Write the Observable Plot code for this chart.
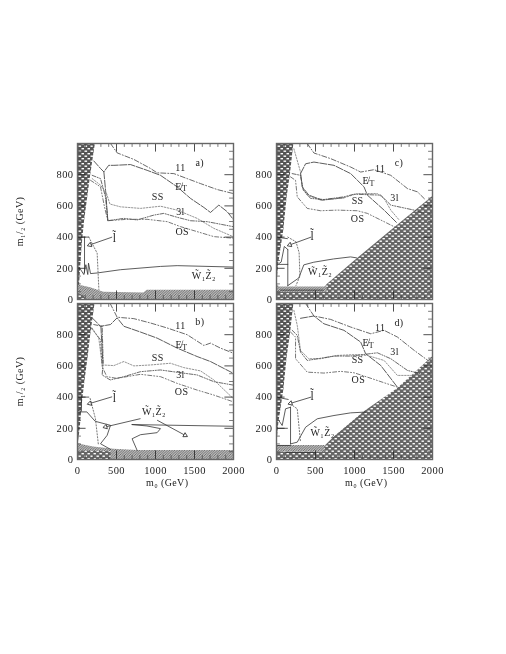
<!DOCTYPE html>
<html><head><meta charset="utf-8">
<script src="https://cdn.jsdelivr.net/npm/d3@7"></script>
<script src="https://cdn.jsdelivr.net/npm/@observablehq/plot@0.6"></script>
<style>html,body{margin:0;padding:0;background:#fff}svg{display:block;filter:blur(.35px)}svg text{letter-spacing:.4px}</style>
</head><body><div id="c"></div>
<script>
// curves, [m0, m1/2]
const a11=[[423,1000],[508,940],[722,898],[936,840],[1021,812],[1235,807],[1406,775],[1577,743],[1790,705],[1990,680]];
const aEt=[[209,888],[295,840],[338,818],[400,860],[466,860],[679,865],[893,828],[1064,796],[1278,722],[1449,648],[1620,590],[1705,558],[1812,605],[1919,563],[1996,514]];
const aEt2=[[338,818],[360,700],[389,505]];
const aSS=[[188,775],[295,733],[372,680],[415,612],[551,594],[808,584],[1064,598],[1278,573],[1534,520],[1748,456],[1996,403]];
const a3l=[[188,796],[295,775],[359,658],[389,505],[594,520],[765,510],[979,541],[1107,552],[1278,527],[1449,505],[1662,499],[1996,467]];
const aOS=[[167,764],[295,722],[346,594],[389,505],[637,514],[893,514],[1150,499],[1321,467],[1534,435],[1748,403],[1996,393]];
const aW=[[0,165],[30,200],[81,160],[107,223],[132,160],[141,233],[167,166],[252,170],[551,191],[1064,212],[1278,217],[1996,208]];
const aV=[[90,400],[90,170]];
const aH=[[0,400],[145,400]];
const aDot=[[145,400],[252,297],[274,64]];

const b11=[[419,1000],[508,912],[722,903],[936,875],[1150,843],[1406,800],[1620,731],[1705,746],[1833,714],[1996,682]];
const bEt=[[188,908],[295,854],[423,865],[508,908],[594,854],[808,817],[1021,778],[1278,714],[1534,660],[1705,628],[1996,553]];
const bEt2=[[300,854],[325,620]];
const bSS=[[188,843],[273,778],[316,606],[466,602],[594,628],[722,600],[936,606],[1192,617],[1363,589],[1577,568],[1748,510],[1996,391]];
const b3l=[[209,865],[316,854],[329,628],[316,542],[419,510],[594,531],[808,563],[1064,574],[1278,559],[1534,542],[1748,499],[1996,477]];
const bOS=[[162,850],[295,768],[316,596],[376,531],[504,520],[808,546],[1064,531],[1278,488],[1534,445],[1748,413],[1996,370]];
const bW=[[0,316],[50,305],[120,305],[226,245],[423,219],[380,155],[295,101],[423,65]];
const bW2=[[700,224],[1996,213]];
const bW3=[[700,224],[890,215],[1064,198],[1021,172],[808,159],[700,133],[765,58]];
const bV=[[50,400],[50,310]];
const bH=[[0,400],[145,400]];
const bDot=[[162,391],[230,262],[269,90]];

const c11=[[394,1000],[480,939],[694,903],[951,849],[1079,817],[1250,832],[1465,796],[1679,711],[1807,690],[1914,637]];
const cEt=[[308,807],[373,870],[480,881],[737,860],[951,807],[1122,722],[1165,669],[1379,573],[1550,488]];
const cEt2=[[308,807],[330,722],[415,669],[587,637],[865,652]];
const cSS=[[223,966],[308,817],[330,722],[394,669],[565,637],[865,652],[1036,679],[1293,679],[1379,648],[1465,573],[1572,510]];
const c3l=[[201,807],[308,796],[343,701],[437,648],[608,641],[865,658],[994,675],[1336,669],[1465,605],[1764,573],[1893,552]];
const cOS=[[180,786],[244,764],[266,658],[394,584],[565,569],[779,573],[1036,569],[1165,552],[1379,499],[1550,456]];
const cW=[[145,89],[286,138],[350,222],[478,239],[731,260],[949,273],[1026,267]];
const cV=[[145,89],[145,320]];
const cS=[[30,230],[60,240],[100,340],[145,320]];
const cH=[[0,225],[145,225]];
const cH2=[[0,400],[140,390]];
const cDot=[[145,400],[250,370],[290,300],[300,150],[250,90]];
const cL=[[50,60],[600,60]];

const d11=[[373,1000],[480,920],[694,898],[951,849],[1208,806],[1379,828],[1550,785],[1764,700],[1957,629]];
const dEt=[[308,905],[480,920],[608,870],[865,828],[1079,753],[1143,678],[1336,603],[1550,464]];
const dSS=[[223,956],[266,860],[308,699],[415,646],[565,646],[779,667],[994,672],[1165,667],[1379,635],[1550,539],[1722,539]];
const d3l=[[201,828],[266,796],[308,689],[394,635],[737,663],[951,663],[1293,684],[1465,646],[1679,571],[1850,550]];
const dOS=[[180,817],[244,785],[244,646],[394,560],[608,554],[822,565],[994,556],[1165,528],[1379,492],[1550,464]];
const dW=[[180,100],[266,111],[373,207],[523,261],[737,282],[951,299],[1143,304]];
const dV=[[180,100],[180,335]];
const dS=[[30,250],[73,218],[116,325],[180,335]];
const dH=[[0,200],[140,200]];
const dH2=[[0,90],[180,90]];
const dH3=[[0,400],[150,385]];
const dDot=[[180,355],[266,325],[308,110]];
const dL=[[120,45],[500,45]];

// shaded regions
const aLeft=[[230,1000],[170,800],[130,650],[90,500],[60,350],[40,200],[15,0]];
const bLeft=[[225,1000],[170,800],[135,650],[95,500],[60,350],[35,200],[10,100]];
const cLeft=[[223,1000],[180,807],[137,658],[94,446],[30,234],[0,64]];
const dLeft=[[223,1000],[180,807],[137,658],[94,446],[30,234],[0,64]];
const cTri=[[550,0],[587,60],[651,96],[994,244],[1507,456],[2000,658]];
const dTri=[[520,0],[587,68],[737,143],[1122,304],[1550,453],[2000,657]];
const aHatch=[[0,95,0],[167,75,0],[338,47,0],[850,42,0],[893,60,0],[2000,60,0]];
const bHatch=[[0,101,0],[205,80,0],[466,65,0],[765,58,0],[2000,58,0]];
const cHatch=[[0,100,45],[40,80,45],[650,80,45]];
const dHatch=[[0,90,47],[620,90,47]];
const aBrick=[[0,40,0],[100,20,0]];
const bBrick=[[0,55,0],[430,50,0]];
const cBrick=[[0,45,0],[600,45,0]];
const dBrick=[[0,47,0],[600,47,0]];

// ticks
const xMajor=[0,500,1000,1500,2000];
const xMinor=[100,200,300,400,600,700,800,900,1100,1200,1300,1400,1600,1700,1800,1900];
const yMajor=[0,200,400,600,800,1000];
const yMinor=[50,100,150,250,300,350,450,500,550,650,700,750,850,900,950];
const yLabels=[0,200,400,600,800];

const cell={a:["L","T"],b:["L","B"],c:["R","T"],d:["R","B"]};
const lineSets=[
 ["a","11",a11],["a","Et",aEt],["a","Et",aEt2],["a","SS",aSS],["a","3l",a3l],["a","OS",aOS],["a","W",aW],["a","W",aV],["a","W",aH],["a","dot",aDot],
 ["b","11",b11],["b","Et",bEt],["b","Et",bEt2],["b","SS",bSS],["b","3l",b3l],["b","OS",bOS],["b","W",bW],["b","W",bW2],["b","W",bW3],["b","W",bV],["b","W",bH],["b","dot",bDot],
 ["c","11",c11],["c","Et",cEt],["c","Et",cEt2],["c","SS",cSS],["c","3l",c3l],["c","OS",cOS],["c","W",cW],["c","W",cV],["c","W",cS],["c","W",cH],["c","W",cH2],["c","W",cL],["c","dot",cDot],
 ["d","11",d11],["d","Et",dEt],["d","SS",dSS],["d","3l",d3l],["d","OS",dOS],["d","W",dW],["d","W",dV],["d","W",dS],["d","W",dH],["d","W",dH2],["d","W",dH3],["d","W",dL],["d","dot",dDot]
];
const rows=lineSets.flatMap(([p,k,pts],i)=>pts.map(([x,y])=>({fx:cell[p][0],fy:cell[p][1],k,id:i,x,y})));
const kind=k=>rows.filter(r=>r.k===k);
const styleOf={
 "11":{stroke:"#444",strokeWidth:.8,strokeDasharray:"5 2 1 2"},
 "Et":{stroke:"#333",strokeWidth:.8,strokeDasharray:"7 1.5"},
 "SS":{stroke:"#888",strokeWidth:.9,strokeDasharray:"1.5 1.5"},
 "3l":{stroke:"#444",strokeWidth:.8,strokeDasharray:"4 1.5 1 1.5 1 1.5"},
 "OS":{stroke:"#555",strokeWidth:.8,strokeDasharray:"4 2 1 2 1 2"},
 "W":{stroke:"#333",strokeWidth:.8},
 "dot":{stroke:"#666",strokeWidth:.9,strokeDasharray:"1.2 1.8"}
};
const left=[["a",aLeft],["b",bLeft],["c",cLeft],["d",dLeft]].flatMap(([p,pts])=>pts.map(([x,y])=>({fx:cell[p][0],fy:cell[p][1],p,x,y})));
const tri=[["c",cTri],["d",dTri]].flatMap(([p,pts])=>pts.map(([x,y])=>({fx:cell[p][0],fy:cell[p][1],p,x,y})));
const band=sets=>sets.flatMap(([p,pts])=>pts.map(([x,y2,y1])=>({fx:cell[p][0],fy:cell[p][1],p,x,y1,y2})));
const hatch=band([["a",aHatch],["b",bHatch],["c",cHatch],["d",dHatch]]);
const brick=band([["a",aBrick],["b",bBrick],["c",cBrick],["d",dBrick]]);

// arrows: from label to head
const arrowSets=[["a",444,400,158,350],["b",444,402,158,359],["b",808,262,359,209],["b",1021,252,1380,155],["c",444,400,170,350],["d",444,400,180,360]];
const arrows=arrowSets.map(([p,x1,y1,x2,y2])=>({fx:cell[p][0],fy:cell[p][1],x1,y1,x2,y2,
  rotate:Math.atan2((x2-x1)*0.078,(y2-y1)*0.157)*180/Math.PI}));

// text
const labelSets=[
 ["a","11",1320,843],["a","E̸",1296,722],["a","T",1372,712],["a","SS",1030,658],["a","3l",1320,563],["a","OS",1342,435],["a","a)",1568,877],["a","l̃",474,393],["a","W̃₁Z̃₂",1620,150],
 ["b","11",1320,855],["b","E̸",1299,735],["b","T",1376,720],["b","SS",1030,655],["b","3l",1320,540],["b","OS",1335,435],["b","b)",1568,880],["b","l̃",474,395],["b","W̃₁Z̃₂",980,305],
 ["c","11",1330,840],["c","E̸",1143,758],["c","T",1225,745],["c","SS",1040,630],["c","3l",1515,650],["c","OS",1040,520],["c","c)",1570,875],["c","l̃",460,405],["c","W̃₁Z̃₂",560,175],
 ["d","11",1330,845],["d","E̸",1143,746],["d","T",1216,733],["d","SS",1040,640],["d","3l",1515,690],["d","OS",1050,510],["d","d)",1570,875],["d","l̃",460,405],["d","W̃₁Z̃₂",590,170]
];
const labels=labelSets.map(([p,t,x,y])=>({fx:cell[p][0],fy:cell[p][1],t,x,y}));
const yTitles=[["a","m₁/₂ (GeV)",-745,500],["b","m₁/₂ (GeV)",-745,500]].map(([p,t,x,y])=>({fx:cell[p][0],fy:cell[p][1],t,x,y}));
const xTitles=[["b","m₀ (GeV)",1150,-150],["d","m₀ (GeV)",1150,-150]].map(([p,t,x,y])=>({fx:cell[p][0],fy:cell[p][1],t,x,y}));

const serif="'Liberation Serif',serif";
const chart=Plot.plot({
  width:506,height:654,
  marginLeft:77,marginRight:74,marginTop:143,marginBottom:195,
  style:{background:"#fff",fontFamily:serif,color:"#222",overflow:"visible"},
  x:{domain:[0,2000],axis:null},
  y:{domain:[0,1000],axis:null},
  fx:{domain:["L","R"],axis:null,paddingInner:43/199,paddingOuter:0,round:false,label:null},
  fy:{domain:["T","B"],axis:null,paddingInner:4/160,paddingOuter:0,round:false,label:null},
  marks:[
    Plot.areaX(left,{y:"y",x1:0,x2:"x",z:"p",fx:"fx",fy:"fy",fill:"url(#brickL)"}),
    Plot.areaY(tri,{x:"x",y1:0,y2:"y",z:"p",fx:"fx",fy:"fy",fill:"url(#brickT)"}),
    Plot.areaY(hatch,{x:"x",y1:"y1",y2:"y2",z:"p",fx:"fx",fy:"fy",fill:"url(#hatch)"}),
    Plot.areaY(brick,{x:"x",y1:"y1",y2:"y2",z:"p",fx:"fx",fy:"fy",fill:"url(#brickT)"}),
    ...Object.entries(styleOf).map(([k,s])=>Plot.line(kind(k),{x:"x",y:"y",z:"id",fx:"fx",fy:"fy",...s})),
    Plot.link(arrows,{x1:"x1",y1:"y1",x2:"x2",y2:"y2",fx:"fx",fy:"fy",stroke:"#333",strokeWidth:.8}),
    Plot.dot(arrows,{x:"x2",y:"y2",fx:"fx",fy:"fy",symbol:"triangle",rotate:"rotate",r:1.7,stroke:"#333",strokeWidth:.8,fill:"#fff"}),
    Plot.ruleX(xMajor,{y1:0,y2:55,stroke:"#222",strokeWidth:.8}),
    Plot.ruleX(xMajor,{y1:945,y2:1000,stroke:"#222",strokeWidth:.8}),
    Plot.ruleX(xMinor,{y1:0,y2:25,stroke:"#444",strokeWidth:.7}),
    Plot.ruleX(xMinor,{y1:975,y2:1000,stroke:"#444",strokeWidth:.7}),
    Plot.ruleY(yMajor,{x1:0,x2:110,stroke:"#222",strokeWidth:.8}),
    Plot.ruleY(yMajor,{x1:1890,x2:2000,stroke:"#222",strokeWidth:.8}),
    Plot.ruleY(yMinor,{x1:0,x2:50,stroke:"#444",strokeWidth:.7}),
    Plot.ruleY(yMinor,{x1:1950,x2:2000,stroke:"#444",strokeWidth:.7}),
    Plot.frame({stroke:"#666",strokeWidth:1.4}),
    Plot.text(labels,{x:"x",y:"y",text:"t",fx:"fx",fy:"fy",fontSize:d=>d.t==="T"?8:d.t.length>3?10:/\u0303/.test(d.t)?11.5:10,fill:"#222"}),
    Plot.axisY(yLabels,{anchor:"left",facetAnchor:null,tickSize:0,tickPadding:4,label:null,fontSize:10.5,tickFormat:d=>String(d)}),
    Plot.axisX(xMajor,{anchor:"bottom",facetAnchor:"bottom",tickSize:0,tickPadding:7,label:null,fontSize:10.5,tickFormat:d=>String(d)}),
    Plot.text(yTitles,{x:"x",y:"y",text:"t",fx:"fx",fy:"fy",rotate:-90,fontSize:10,fill:"#222"}),
    Plot.text(xTitles,{x:"x",y:"y",text:"t",fx:"fx",fy:"fy",fontSize:10,fill:"#222"})
  ]
});
document.getElementById("c").appendChild(chart);
const defs=d3.select(chart).insert("defs",":first-child");
function brickPat(id,bg,w){
  const p=defs.append("pattern").attr("id",id).attr("patternUnits","userSpaceOnUse").attr("width",6).attr("height",5);
  p.append("rect").attr("width",6).attr("height",5).attr("fill",bg);
  p.append("rect").attr("x",.5).attr("y",.5).attr("width",w).attr("height",1.4).attr("fill","#fff");
  p.append("rect").attr("x",3.5).attr("y",3).attr("width",w).attr("height",1.4).attr("fill","#fff");
}
brickPat("brickL","#555",2.6);
brickPat("brickT","#666",2.4);
const h=defs.append("pattern").attr("id","hatch").attr("patternUnits","userSpaceOnUse").attr("width",2.5).attr("height",2.5);
h.append("rect").attr("width",2.5).attr("height",2.5).attr("fill","#bbb");
h.append("path").attr("d","M-.5,.5 L.5,-.5 M0,2.5 L2.5,0 M2,3 L3,2").attr("stroke","#555").attr("stroke-width",.7);
</script></body></html>
